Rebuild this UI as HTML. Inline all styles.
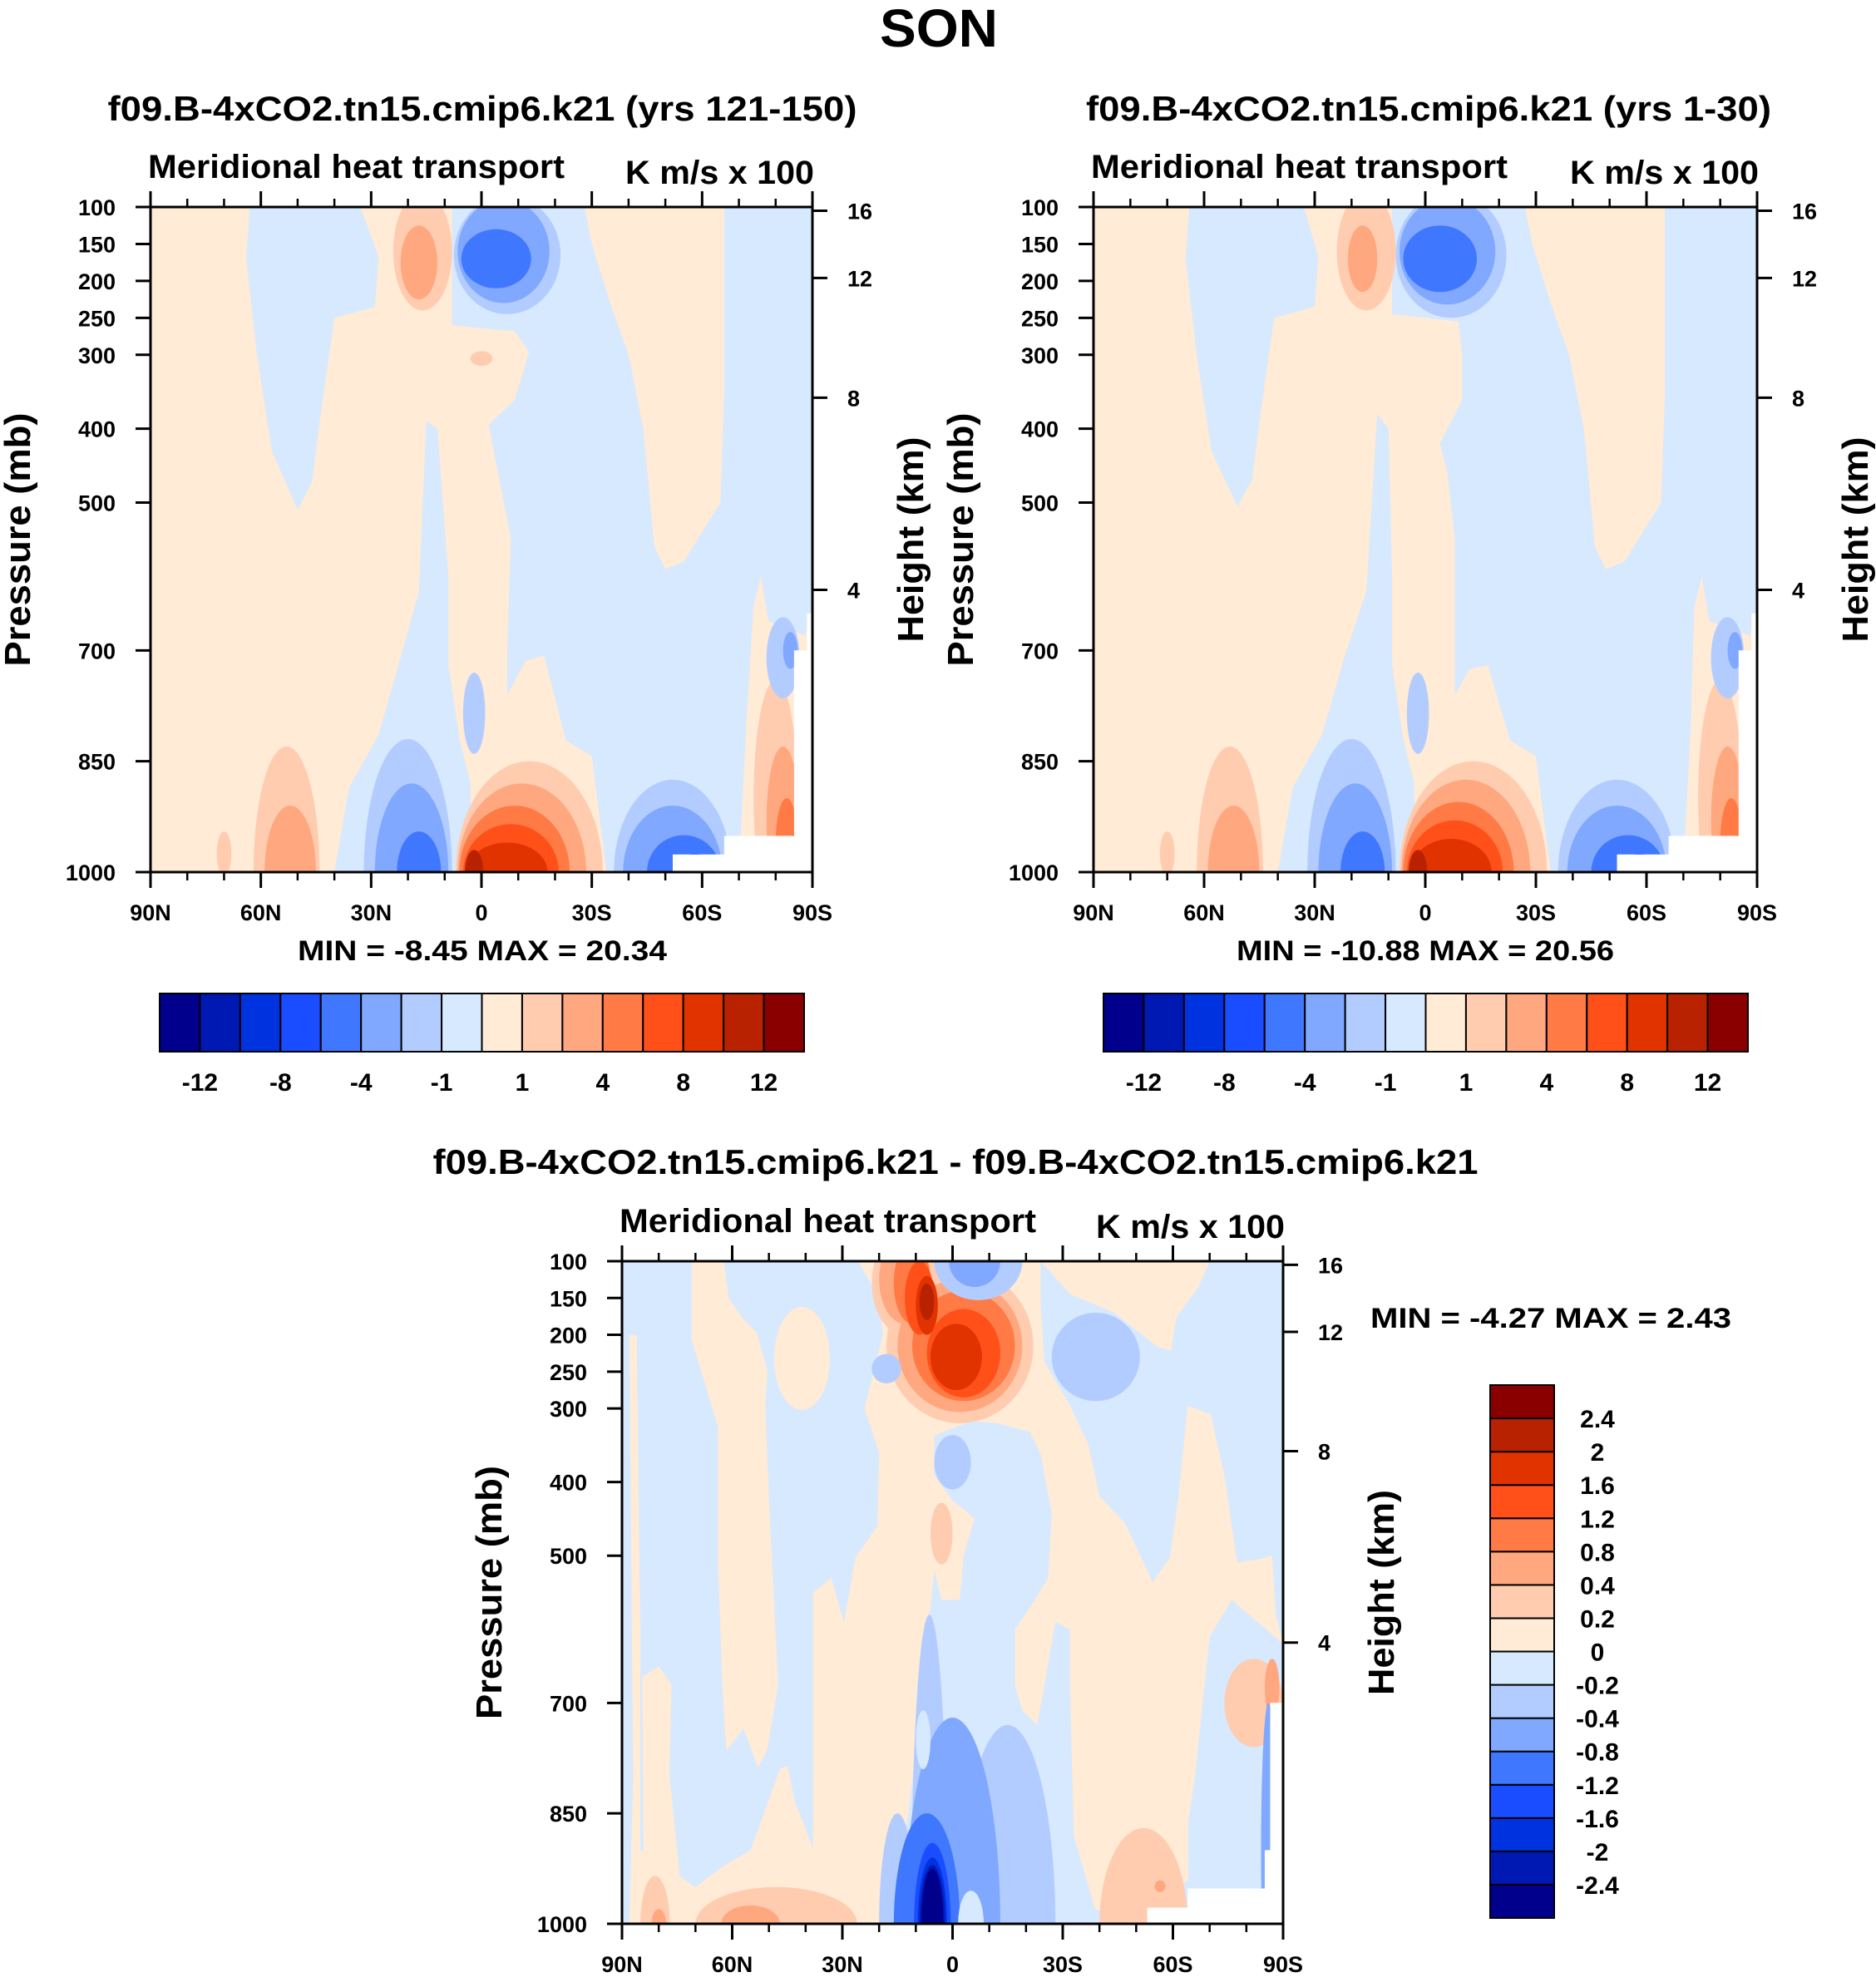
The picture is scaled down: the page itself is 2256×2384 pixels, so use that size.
<!DOCTYPE html>
<html><head><meta charset="utf-8">
<style>
html,body{margin:0;padding:0;background:#fff;width:2256px;height:2384px;overflow:hidden;}
svg{display:block;font-family:"Liberation Sans",sans-serif;font-weight:bold;}
</style></head>
<body>
<svg id="fig" xmlns="http://www.w3.org/2000/svg" width="2256" height="2384" viewBox="0 0 2256 2384">
<rect width="2256" height="2384" fill="#fff"/>
<text x="1129" y="56" font-size="64" text-anchor="middle" textLength="142" lengthAdjust="spacingAndGlyphs">SON</text>
</svg>
<script>
// ---------- data ----------
const palette = ["#00008c","#0019b3","#0033e0","#1a4dff","#4077ff","#80a8ff","#b3ccff","#d6e9ff","#ffebd6","#ffccb0","#ffa880","#ff7a45","#ff5019","#e03300","#b82200","#8a0000"];
const cbLabelsTop = ["-12","-8","-4","-1","1","4","8","12"];
const cbLabelsBottom = ["2.4","2","1.6","1.2","0.8","0.4","0.2","0","-0.2","-0.4","-0.8","-1.2","-1.6","-2","-2.4"];
const pressureTicks = [100,150,200,250,300,400,500,700,850,1000];
const heightTicks = [16,12,8,4];
const heightTickPressure = [105,196,358,618];
const latMajor = [90,60,30,0,-30,-60,-90];
const latMajorLabels = ["90N","60N","30N","0","30S","60S","90S"];
const latMinor = [80,70,50,40,20,10,-10,-20,-40,-50,-70,-80];

const p1Polys = [
 [8, [[90,100],[63,100],[64,170],[61,300],[57,430],[50,510],[46,470],[44,390],[40,250],[29,235],[28,167],[33,100],[8,100],[8,260],[-9,268],[-13,296],[-9,361],[-2,395],[-4,447],[-8,548],[-7,700],[-7,760],[-12,714],[-17,707],[-23,822],[-30,843],[-34,1000],[3,1000],[3,880],[6,820],[9,720],[9,600],[12,400],[15,390],[17,620],[22,710],[28,814],[36,886],[40,1000],[90,1000]]],
 [8, [[-28,100],[-66,100],[-66,350],[-65,500],[-60,540],[-55,580],[-50,590],[-47,560],[-44,400],[-40,300],[-35,230],[-30,150]]],
 [8, [[-70,1000],[-72,800],[-74,640],[-76,600],[-78,660],[-88,680],[-90,640],[-90,1000]]]
];
const p1Ells = [
 [0,305,3,10,9],
 [16,160,8,80,9],[17,175,5,50,10],
 [-7,165,14.5,80,6],[-6,160,12.5,70,5],[-4,170,9.5,40,4],
 [-13,1000,20,150,9],[-11,1000,17.5,120,10],[-9,1000,15,90,11],[-8,1000,13,65,12],[-7,1000,11,40,13],[2,1000,2.5,30,14],
 [20,1000,12,180,6],[19,1000,10,120,5],[17,1000,6,55,4],
 [2,785,3,55,6],
 [-52,1000,16,125,6],[-52,1000,13.5,90,5],[-55,1000,10,50,4],[-58,1000,5,25,3],
 [53,1000,9,170,9],[52,1000,7,90,10],[70,975,2,30,9],
 [-80,900,6,160,9],[-82,930,4.5,100,10],[-83,960,3,60,11],[-85,990,2,40,12],
 [-82,710,4.5,55,6],[-84,700,2,25,5]
];
const p1White = [[-52,976],[-66,976],[-66,951],[-85,951],[-85,700],[-88.5,700],[-88.5,650],[-90,650],[-90,1000],[-52,1000]];

const p2Polys = [
 [8, [[90,100],[64,100],[65,170],[62,300],[58,430],[51,505],[47,470],[45,390],[41,250],[30,235],[29,167],[33,100],[9,100],[9,245],[-9,255],[-10,300],[-10,361],[-4,420],[-6,460],[-8,548],[-8,700],[-8,760],[-12,725],[-17,720],[-23,822],[-30,843],[-34,1000],[3,1000],[3,880],[6,820],[9,720],[9,600],[10,400],[13,380],[16,620],[22,710],[28,814],[36,886],[40,1000],[90,1000]]],
 [8, [[-27,100],[-65,100],[-65,350],[-64,500],[-59,540],[-54,580],[-49,590],[-46,560],[-43,400],[-39,300],[-34,230],[-29,150]]],
 [8, [[-70,1000],[-72,800],[-73,640],[-75,600],[-77,660],[-88,680],[-90,640],[-90,1000]]]
];
const p2Ells = [
 [16,160,8,80,9],[17,170,4,45,10],
 [-7,165,15,85,6],[-6,160,13,72,5],[-4,170,10,45,4],
 [-13,1000,20,150,9],[-11,1000,17.5,125,10],[-9,1000,15,95,11],[-8,1000,13,70,12],[-7,1000,11,45,13],[2,1000,2.5,30,14],
 [20,1000,12,180,6],[19,1000,10,120,5],[17,1000,6,55,4],
 [2,785,3,55,6],
 [-52,1000,16,125,6],[-52,1000,13.5,90,5],[-55,1000,10,50,4],[-58,1000,5,25,3],
 [53,1000,9,170,9],[52,1000,7,90,10],[70,975,2,30,9],
 [-80,900,6,160,9],[-82,930,4.5,100,10],[-83,960,3,60,11],[-85,990,2,40,12],
 [-82,710,4.5,55,6],[-84,700,2,25,5]
];
const p2White = p1White;

const p3Polys = [
 [8, [[86,200],[88,200],[87,800],[88,1000],[85,1000],[85,600]]],
 [8, [[71,100],[62.2,100],[61,150],[56.9,179],[53.3,197],[50.4,249],[51,296],[49.8,443],[48.6,560],[47.5,677],[50.5,765],[53,788],[56.9,735],[61.6,765],[62.7,677],[63.9,501],[63.9,325],[67.4,267],[71,208]]],
 [8, [[84,1000],[79,700],[73,1000]]],
 [8, [[25.7,100],[4.6,100],[0,150],[-11,160],[-19.5,100],[-24,100],[-24,160],[-25,237],[-32,296],[-37,349],[-40,419],[-47,456],[-54.5,536],[-59.2,502],[-61.5,420],[-64,296],[-70.3,308],[-74,390],[-77.5,509],[-83,505],[-87,500],[-88,580],[-90,620],[-76,560],[-70,610],[-66,800],[-64.2,862],[-64.2,940],[-53,978],[38,1000],[38,900],[38,550],[33,530],[29.6,590],[26.4,502],[20.5,460],[20,360],[24,300],[19,200],[20,150]]],
 [7, [[9,1000],[-40,1000],[-33,881],[-32,677],[-32,600],[-28,590],[-25,677],[-23,730],[-19,710],[-17,677],[-17,600],[-21,571],[-26,530],[-27,443],[-24,362],[-21,332],[-12,320],[-5,317],[1.5,330],[5,337],[5,390],[0,425],[-6,449],[-3,500],[-2,560],[3,560],[5,520],[6,570],[9,650],[10,765],[12,850],[14,900],[17,1000]]],
 [8, [[-24,100],[-70,100],[-67,135],[-61,176],[-59.5,222],[-56,217],[-44,170],[-32,145]]],
 [8, [[78,1000],[76.5,675],[80,650],[84.5,665],[84,1000]]],
 [8, [[86,1000],[85,900],[70,950],[62,920],[55,900],[47,790],[45,785],[43,833],[37,910],[30,930],[20,950],[18,1000]]]
];
const p3Ells = [
 [41,232,7.6,70,8],
 [-2,215,20,105,9],[13,130,9,70,9],
 [-2,215,17,90,10],[13,125,7,60,10],
 [-3,215,14,75,11],[11,130,5,55,11],
 [-3,225,10,60,12],[9,150,4,50,12],
 [-1,230,7,45,13],[7,160,3,40,13],
 [7,155,2,25,14],
 [-7,100,12,53,6],[-6,100,7,35,5],
 [-39,230,12,60,6],
 [18,246,4,20,6],
 [0,373,5,37,6],
 [3,470,3,42,9],
 [6.3,1000,5,420,6],[-15,1000,13,270,6],[15,1000,5,150,6],
 [0,1000,13,280,5],
 [7,1000,9,150,4],
 [5.5,1000,5,110,3],[5.5,1000,4,90,2],[5.5,1000,3.5,80,1],[5.5,1000,3,75,0],
 [8,750,2,40,7],[-5,1000,3.5,45,7],
 [81,1000,4,65,9],[48,1000,22,50,9],[80,1000,2,20,10],[55,1000,8,25,10],
 [-52,1000,12,130,9],[-56.5,949,1.5,8,10],
 [-82,700,8,60,9],[-87,680,2,40,10],
 [-86,900,2,200,5]
];
const p3White = [[-53,978],[-64,978],[-64,952],[-85,952],[-85,900],[-86.5,900],[-86.5,700],[-90,700],[-90,1000],[-53,1000]];

// ---------- rendering ----------
const NS = "http://www.w3.org/2000/svg";
const svg = document.getElementById('fig');
function mk(tag, attrs, parent){ const e=document.createElementNS(NS,tag); for(const k in attrs) e.setAttribute(k,attrs[k]); (parent||svg).appendChild(e); return e; }

function panel(id, X, Y, W, H, polys, ells, white, bg){
  const xS = lat => X + (90-lat)/180*W;
  const yS = p => Y + (p-100)/900*H;
  const g = mk('g',{});
  
  
  const defs = mk('defs',{},g);
  const cp = mk('clipPath',{id:id+'-clip'},defs);
  mk('rect',{x:X,y:Y,width:W,height:H},cp);
  const body = mk('g',{'clip-path':'url(#'+id+'-clip)'},g);
  const bgr = mk('rect',{x:X,y:Y,width:W,height:H,fill:palette[bg]},body);
  
  
  polys.forEach(pl=>{
    const pts = pl[1].map(q=>xS(q[0]).toFixed(1)+','+yS(q[1]).toFixed(1)).join(' ');
    const e = mk('polygon',{points:pts,fill:palette[pl[0]]},body);
    
    
  });
  ells.forEach(el=>{
    const cx=xS(el[0]), cy=yS(el[1]);
    const rx=Math.abs(xS(el[0]+el[2])-cx), ry=Math.abs(yS(el[1]+el[3])-cy);
    const e = mk('ellipse',{cx:cx,cy:cy,rx:rx,ry:ry,fill:palette[el[4]]},body);
    
    
  });
  const wpts = white.map(q=>xS(q[0]).toFixed(1)+','+yS(q[1]).toFixed(1)).join(' ');
  const wp = mk('polygon',{points:wpts,fill:'#fff'},body);
  
  
  const fr = mk('rect',{x:X,y:Y,width:W,height:H,fill:'none',stroke:'#000','stroke-width':3},g);
  
  
  latMajor.forEach((lat,i)=>{
    const x=xS(lat);
    mk('line',{x1:x,y1:Y,x2:x,y2:Y-19,stroke:'#000','stroke-width':3},g);
    mk('line',{x1:x,y1:Y+H,x2:x,y2:Y+H+19,stroke:'#000','stroke-width':3},g);
    const t = mk('text',{x:x,y:Y+H+58,'font-size':27,'text-anchor':'middle'},g);
    t.textContent = latMajorLabels[i];
    
    
  });
  latMinor.forEach(lat=>{
    const x=xS(lat);
    mk('line',{x1:x,y1:Y,x2:x,y2:Y-10,stroke:'#000','stroke-width':2.5},g);
    mk('line',{x1:x,y1:Y+H,x2:x,y2:Y+H+10,stroke:'#000','stroke-width':2.5},g);
  });
  pressureTicks.forEach(p=>{
    const y=yS(p);
    mk('line',{x1:X,y1:y,x2:X-18,y2:y,stroke:'#000','stroke-width':3},g);
    const t = mk('text',{x:X-42,y:y+10,'font-size':27,'text-anchor':'end'},g);
    t.textContent = String(p);
    
    
  });
  heightTicks.forEach((h,i)=>{
    const y=yS(heightTickPressure[i]);
    mk('line',{x1:X+W,y1:y,x2:X+W+18,y2:y,stroke:'#000','stroke-width':3},g);
    const t = mk('text',{x:X+W+42,y:y+10,'font-size':27,'text-anchor':'start'},g);
    t.textContent = String(h);
    
    
  });
  const pl = mk('text',{x:0,y:0,'font-size':44,'text-anchor':'middle',transform:'translate('+(X-145)+','+(Y+H/2)+') rotate(-90)',textLength:305,lengthAdjust:'spacingAndGlyphs'},g);
  pl.textContent='Pressure (mb)';
  
  
  const hl = mk('text',{x:0,y:0,'font-size':44,'text-anchor':'middle',transform:'translate('+(X+W+133)+','+(Y+H/2)+') rotate(-90)',textLength:247,lengthAdjust:'spacingAndGlyphs'},g);
  hl.textContent='Height (km)';
  
  
  const ml = mk('text',{x:X-3,y:Y-35,'font-size':40,textLength:501,lengthAdjust:'spacingAndGlyphs'},g);
  ml.textContent='Meridional heat transport';
  
  
  const ul = mk('text',{x:X+W+2,y:Y-28,'font-size':40,'text-anchor':'end',textLength:227,lengthAdjust:'spacingAndGlyphs'},g);
  ul.textContent='K m/s x 100';
  
  
}

function text(x,y,size,str,anchor,len,name){
  const t = mk('text',{x:x,y:y,'font-size':size,'text-anchor':anchor||'start'});
  if(len){t.setAttribute('textLength',len);t.setAttribute('lengthAdjust','spacingAndGlyphs');}
  t.textContent=str;
  
  
}

function hbar(id,X,Y,W,H){
  const n=palette.length, bw=W/n;
  palette.forEach((c,i)=>{
    const r = mk('rect',{x:X+i*bw,y:Y,width:bw,height:H,fill:c,stroke:'#000','stroke-width':2});
    
    
  });
  cbLabelsTop.forEach((l,i)=>{
    text(X+(2*i+1)*bw, Y+H+47, 30, l, 'middle', null, id+'-label');
  });
}
function vbar(id,X,Y,W,H){
  const n=palette.length, bh=H/n;
  palette.forEach((c,i)=>{
    const r = mk('rect',{x:X,y:Y+(n-1-i)*bh,width:W,height:bh,fill:c,stroke:'#000','stroke-width':2});
    
    
  });
  cbLabelsBottom.forEach((l,i)=>{
    text(X+W+52, Y+(i+1)*bh+11, 30, l, 'middle', null, id+'-label');
  });
}

text(580,145,42,'f09.B-4xCO2.tn15.cmip6.k21 (yrs 121-150)','middle',901,'panel1-title');
text(1718,145,42,'f09.B-4xCO2.tn15.cmip6.k21 (yrs 1-30)','middle',824,'panel2-title');
text(1149,1412,42,'f09.B-4xCO2.tn15.cmip6.k21 - f09.B-4xCO2.tn15.cmip6.k21','middle',1257,'panel3-title');

panel('panel1',181,249,796,800,p1Polys,p1Ells,p1White,7);
panel('panel2',1315,249,798,800,p2Polys,p2Ells,p2White,7);
panel('panel3',748,1517,795,797,p3Polys,p3Ells,p3White,7);

text(580,1155,34,'MIN =  -8.45  MAX =  20.34','middle',444,'panel1-min-max');
text(1714,1155,34,'MIN = -10.88  MAX =  20.56','middle',454,'panel2-min-max');
text(1865,1597,34,'MIN =  -4.27  MAX =   2.43','middle',434,'panel3-min-max');

hbar('colorbar1',192,1195,775,70);
hbar('colorbar2',1327,1195,775,70);
vbar('colorbar3',1792,1666,77,641);
</script>
</body></html>
